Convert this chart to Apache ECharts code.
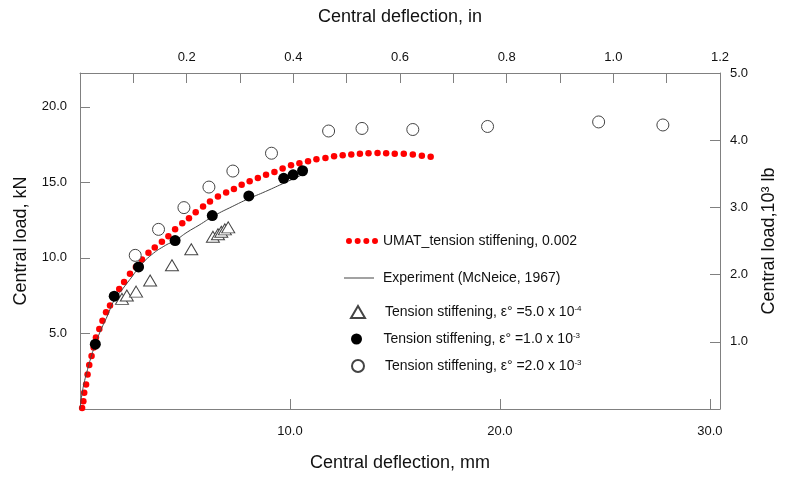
<!DOCTYPE html>
<html>
<head>
<meta charset="utf-8">
<title>Central load vs deflection</title>
<script src="https://cdn.jsdelivr.net/npm/echarts@6/dist/echarts.min.js"></script>
<style>
  html, body { margin: 0; padding: 0; background: #fff; }
  #chart { width: 787px; height: 478px; }
</style>
</head>
<body>
<div id="chart"></div>
<script>
// [deflection mm, load kN]
var umatData = [
  [0.10, 0.07], [0.16, 0.51], [0.20, 1.07], [0.29, 1.62], [0.36, 2.29], [0.44, 2.91],
  [0.55, 3.51], [0.65, 4.07], [0.76, 4.73], [0.92, 5.29], [1.07, 5.84], [1.24, 6.40],
  [1.43, 6.85], [1.65, 7.40], [1.87, 7.95], [2.10, 8.40], [2.38, 8.95], [2.66, 9.40],
  [2.95, 9.89], [3.26, 10.35], [3.56, 10.69], [3.90, 11.07], [4.21, 11.44], [4.53, 11.89],
  [4.87, 12.29], [5.19, 12.62], [5.51, 13.02], [5.86, 13.40], [6.19, 13.73], [6.57, 14.07],
  [6.96, 14.33], [7.33, 14.57], [7.70, 14.84], [8.08, 15.07], [8.47, 15.29], [8.86, 15.51],
  [9.26, 15.69], [9.65, 15.92], [10.05, 16.13], [10.45, 16.27], [10.86, 16.40], [11.26, 16.53],
  [11.69, 16.62], [12.10, 16.73], [12.51, 16.80], [12.92, 16.84], [13.33, 16.90], [13.74, 16.93],
  [14.17, 16.95], [14.58, 16.93], [14.99, 16.90], [15.42, 16.89], [15.85, 16.84], [16.28, 16.77],
  [16.70, 16.70]
];
var experimentData = [
  [0, 0], [0.09, 0.95], [0.20, 1.75], [0.36, 2.62], [0.54, 3.49], [0.73, 4.29],
  [1.00, 5.25], [1.30, 6.15], [1.63, 7.20], [2.06, 8.00], [2.50, 8.80], [2.82, 9.40],
  [3.40, 10.20], [4.08, 10.84], [4.53, 11.15], [5.10, 11.70], [5.67, 12.17], [6.40, 12.80],
  [7.25, 13.40], [8.00, 13.90], [8.84, 14.40], [9.79, 15.00], [10.58, 15.50]
];
var ts5e4Data = [
  [2.00, 7.29], [2.23, 7.51], [2.67, 7.77], [3.34, 8.51], [4.38, 9.51], [5.30, 10.57],
  [6.33, 11.40], [6.57, 11.57], [6.73, 11.73], [6.90, 11.89], [7.06, 12.02]
];
var ts1e3Data = [
  [0.73, 4.29], [1.63, 7.47], [2.79, 9.40], [4.53, 11.15], [6.30, 12.80], [8.04, 14.10],
  [9.70, 15.27], [10.15, 15.50], [10.60, 15.77]
];
var ts2e3Data = [
  [2.63, 10.17], [3.74, 11.89], [4.95, 13.33], [6.14, 14.69], [7.28, 15.75], [9.12, 16.93],
  [11.84, 18.40], [13.43, 18.57], [15.85, 18.50], [19.41, 18.70], [24.70, 19.00], [27.76, 18.80]
];

var names = [
  'UMAT_tension stiffening, 0.002',
  'Experiment (McNeice, 1967)',
  'Tension stiffening, \u03b5\u00b0 =5.0 x 10^-4',
  'Tension stiffening, \u03b5\u00b0 =1.0 x 10^-3',
  'Tension stiffening, \u03b5\u00b0 =2.0 x 10^-3'
];

var FONT = 'Liberation Sans, Arial, sans-serif';
var AXIS_GREY = '#808080';

var dotsIcon = 'path://M0,3a3,3 0 1,0 6,0a3,3 0 1,0 -6,0' +
  'M8.7,3a3,3 0 1,0 6,0a3,3 0 1,0 -6,0' +
  'M17.4,3a3,3 0 1,0 6,0a3,3 0 1,0 -6,0' +
  'M26.1,3a3,3 0 1,0 6,0a3,3 0 1,0 -6,0';

function legendItem(name, left, top, w, h, icon, padLeft) {
  return {
    data: [icon ? { name: name, icon: icon } : name],
    left: left,
    top: top,
    padding: 0,
    itemWidth: w,
    itemHeight: h,
    selectedMode: false,
    formatter: function (n) {
      return n.replace(/\^(-\d)/, '{sup|$1}');
    },
    textStyle: {
      fontFamily: FONT,
      fontSize: 14,
      color: '#111',
      padding: [0, 0, 0, padLeft],
      rich: {
        sup: { fontFamily: FONT, fontSize: 8, color: '#111', verticalAlign: 'top', padding: [0, 0, 6, 0] }
      }
    }
  };
}

function offAxis(pos, min, max, interval, name, nameGap, labelFn, margin) {
  return {
    type: 'value',
    position: pos,
    min: min,
    max: max,
    interval: interval,
    name: name,
    nameLocation: 'middle',
    nameGap: nameGap,
    nameTextStyle: { fontFamily: FONT, fontSize: 18, color: '#111' },
    axisLine: { show: true, onZero: false, lineStyle: { color: AXIS_GREY, width: 1 } },
    axisTick: { show: true, inside: true, length: 10, lineStyle: { color: AXIS_GREY } },
    axisLabel: {
      margin: margin,
      fontFamily: FONT,
      fontSize: 13,
      color: '#111',
      formatter: labelFn,
      showMinLabel: true,
      showMaxLabel: true
    },
    splitLine: { show: false }
  };
}

function everyTen(v) {
  var r = Math.round(v / 10) * 10;
  return (r > 0 && Math.abs(v - r) < 1e-6) ? r.toFixed(1) : '';
}
function everyFive(v) {
  var r = Math.round(v / 5) * 5;
  return (r > 0 && Math.abs(v - r) < 1e-6) ? r.toFixed(1) : '';
}
function inchLabel(v) {
  var t = Math.round(v * 10);
  return (t > 0 && t % 2 === 0 && Math.abs(v * 10 - t) < 1e-6) ? (t / 10).toFixed(1) : '';
}
function kipLabel(v) {
  return v > 0 ? v.toFixed(1) : '';
}

var option = {
  backgroundColor: '#fff',
  animation: false,
  grid: { left: 80, right: 67, top: 73, bottom: 69, containLabel: false },
  legend: [
    legendItem(names[0], 346, 234, 32, 6, dotsIcon, 0),
    legendItem(names[1], 344, 271, 30, 1, 'rect', 4),
    legendItem(names[2], 350, 305, 14, 12, null, 15),
    legendItem(names[3], 351, 332, 12, 11, null, 16),
    legendItem(names[4], 351, 359, 12, 12, null, 16)
  ],
  xAxis: [
    offAxis('bottom', 0, 30.48, 10, 'Central deflection, mm', 45, everyTen, 16),
    offAxis('top', 0, 1.2, 0.1, 'Central deflection, in', 47, inchLabel, 9)
  ],
  yAxis: [
    offAxis('left', 0, 22.24, 5, 'Central load, kN', 50, everyFive, 13),
    Object.assign(offAxis('right', 0, 5, 1, 'Central load,10\u00b3 lb', 40, kipLabel, 10), { nameRotate: 90 })
  ],
  series: [
    {
      name: names[0],
      type: 'scatter',
      data: umatData,
      symbol: 'circle',
      symbolSize: 6.5,
      itemStyle: { color: '#ff0000', opacity: 1 },
      z: 2
    },
    {
      name: names[1],
      type: 'line',
      data: experimentData,
      smooth: true,
      showSymbol: false,
      symbol: 'none',
      lineStyle: { color: '#444', width: 1 },
      itemStyle: { color: '#444' },
      z: 3
    },
    {
      name: names[2],
      type: 'scatter',
      data: ts5e4Data,
      symbol: 'triangle',
      symbolSize: [13, 11],
      itemStyle: { color: '#fff', borderColor: '#444', borderWidth: 1, opacity: 1 },
      z: 4
    },
    {
      name: names[3],
      type: 'scatter',
      data: ts1e3Data,
      symbol: 'circle',
      symbolSize: 11,
      itemStyle: { color: '#000', opacity: 1 },
      z: 5
    },
    {
      name: names[4],
      type: 'scatter',
      data: ts2e3Data,
      symbol: 'circle',
      symbolSize: 12,
      itemStyle: { color: '#fff', borderColor: '#444', borderWidth: 1, opacity: 1 },
      z: 4
    }
  ]
};

var chart = echarts.init(document.getElementById('chart'));
chart.setOption(option);
window.addEventListener('resize', function () {
  chart.resize();
});
</script>
</body>
</html>
